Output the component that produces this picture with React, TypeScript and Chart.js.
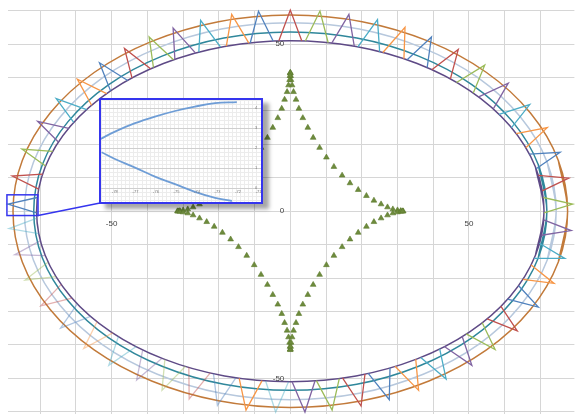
import React, { useEffect, useRef } from 'react';
import { Chart, registerables } from 'chart.js';

Chart.register(...registerables);

// ---------- axis range and labels ----------
const xRange = [-79, 79.5];
const yRange = [-60.8, 60.2];
const xTickLabels = [-50, 50];
const yTickLabels = [50, 0, -50];

// ---------- rings (closed ellipses, points every 15 degrees, overlapping seam) ----------
const outerRingX = [75.0, 77.6, 75.0, 67.2, 54.9, 38.8, 20.1, 0, -20.1, -38.8, -54.9, -67.2, -75.0, -77.6, -75.0, -67.2, -54.9, -38.8, -20.1, 0, 20.1, 38.8, 54.9, 67.2, 75.0, 77.6, 75.0];
const outerRingY = [-15.2, 0, 15.2, 29.4, 41.5, 50.8, 56.7, 58.7, 56.7, 50.8, 41.5, 29.4, 15.2, 0, -15.2, -29.4, -41.5, -50.8, -56.7, -58.7, -56.7, -50.8, -41.5, -29.4, -15.2, 0, 15.2];
const middleRingX = [71.9, 74.4, 71.9, 64.4, 52.6, 37.2, 19.3, 0, -19.3, -37.2, -52.6, -64.4, -71.9, -74.4, -71.9, -64.4, -52.6, -37.2, -19.3, 0, 19.3, 37.2, 52.6, 64.4, 71.9, 74.4, 71.9];
const middleRingY = [-14.6, 0, 14.6, 28.2, 39.9, 48.8, 54.5, 56.4, 54.5, 48.8, 39.9, 28.2, 14.6, 0, -14.6, -28.2, -39.9, -48.8, -54.5, -56.4, -54.5, -48.8, -39.9, -28.2, -14.6, 0, 14.6];
const tealRingX = [69.4, 71.8, 69.4, 62.2, 50.8, 35.9, 18.6, 0, -18.6, -35.9, -50.8, -62.2, -69.4, -71.8, -69.4, -62.2, -50.8, -35.9, -18.6, 0, 18.6, 35.9, 50.8, 62.2, 69.4, 71.8, 69.4];
const tealRingY = [-13.9, 0, 13.9, 26.8, 37.9, 46.4, 51.8, 53.6, 51.8, 46.4, 37.9, 26.8, 13.9, 0, -13.9, -26.8, -37.9, -46.4, -51.8, -53.6, -51.8, -46.4, -37.9, -26.8, -13.9, 0, 13.9];
const innerRingX = [68.6, 71, 68.6, 61.5, 50.2, 35.5, 18.4, 0, -18.4, -35.5, -50.2, -61.5, -68.6, -71, -68.6, -61.5, -50.2, -35.5, -18.4, 0, 18.4, 35.5, 50.2, 61.5, 68.6, 71, 68.6];
const innerRingY = [-13.2, 0, 13.2, 25.5, 36.1, 44.2, 49.3, 51, 49.3, 44.2, 36.1, 25.5, 13.2, 0, -13.2, -25.5, -36.1, -44.2, -49.3, -51, -49.3, -44.2, -36.1, -25.5, -13.2, 0, 13.2];

// ---------- petals: [base, apex, base] ----------
const petalX = [
  [-71.0, -79.0, -70.8], [-70.4, -77.8, -69.3], [-68.5, -75.1, -66.5], [-64.9, -70.7, -62.0],
  [-60.6, -65.5, -57.0], [-55.6, -59.6, -51.4], [-50.3, -53.4, -45.5], [-44.3, -46.4, -39.1],
  [-38.3, -39.5, -32.7], [-32.3, -32.8, -26.5], [-25.6, -25.1, -19.5], [-17.9, -16.4, -11.6],
  [-11.2, -8.9, -4.8], [-3.2, 0, 3.2], [4.2, 8.3, 10.6], [11.6, 16.4, 17.9],
  [18.9, 24.4, 25.0], [25.9, 32.1, 31.8], [32.7, 39.5, 38.3], [39.6, 47.0, 44.8],
  [46.5, 54.4, 51.2], [52.7, 61.0, 56.8], [58.4, 67.0, 61.9], [63.2, 71.9, 65.9],
  [66.9, 75.5, 68.8], [69.4, 77.9, 70.5], [70.8, 79.0, 71.0], [70.9, 78.6, 70.3],
  [69.7, 76.8, 68.2], [67.4, 73.8, 65.1], [63.9, 69.4, 60.8], [58.9, 63.5, 55.1],
  [53.7, 57.3, 49.2], [48.1, 50.8, 43.1], [41.8, 43.6, 36.5], [35.1, 35.9, 29.3],
  [27.9, 27.7, 21.8], [20.9, 19.8, 14.6], [13.7, 11.7, 7.3], [6.9, 4.1, 0.5],
  [-0.5, -4.1, -6.9], [-7.9, -12.4, -14.3], [-15.2, -20.4, -21.5], [-22.4, -28.3, -28.4],
  [-29.3, -35.9, -35.1], [-35.9, -43.0, -41.3], [-43.1, -50.8, -48.1], [-49.7, -57.8, -54.1],
  [-55.9, -64.3, -59.6], [-61.1, -69.8, -64.1], [-65.6, -74.2, -67.8], [-68.6, -77.1, -69.9],
  [-70.4, -78.7, -70.9],
];
const petalY = [
  [-0.5, 2.1, 4.1], [6.6, 10.5, 11.1], [13.5, 18.6, 17.9], [20.7, 26.9, 24.8],
  [26.6, 33.7, 30.4], [31.7, 39.5, 35.2], [36.0, 44.4, 39.1], [39.9, 48.7, 42.6],
  [43.0, 52.1, 45.3], [45.4, 54.8, 47.3], [47.6, 57.1, 49.1], [49.4, 58.9, 50.3],
  [50.4, 59.8, 50.9], [51.0, 60.2, 51.0], [50.9, 59.9, 50.4], [50.3, 58.9, 49.4],
  [49.2, 57.3, 47.7], [47.5, 55.0, 45.6], [45.3, 52.1, 43.0], [42.3, 48.4, 39.6],
  [38.5, 43.7, 35.4], [34.2, 38.3, 30.6], [29.0, 31.9, 25.0], [23.2, 25.0, 19.0],
  [17.1, 17.6, 12.7], [10.7, 9.9, 6.1], [4.1, 2.1, -0.5], [-2.6, -5.8, -7.2],
  [-9.6, -14.1, -14.1], [-16.1, -21.6, -20.4], [-22.3, -28.7, -26.3], [-28.4, -35.8, -32.2],
  [-33.4, -41.4, -36.7], [-37.5, -46.1, -40.5], [-41.2, -50.2, -43.8], [-44.3, -53.6, -46.4],
  [-46.9, -56.4, -48.5], [-48.7, -58.3, -49.9], [-50.1, -59.5, -50.7], [-50.8, -60.1, -51.0],
  [-51.0, -60.1, -50.8], [-50.7, -59.5, -50.0], [-49.8, -58.1, -48.6], [-48.4, -56.2, -46.7],
  [-46.4, -53.6, -44.3], [-44.0, -50.5, -41.5], [-40.5, -46.1, -37.5], [-36.4, -41.1, -33.1],
  [-31.5, -35.0, -27.7], [-26.0, -28.3, -21.9], [-19.6, -20.6, -15.3], [-13.3, -13.0, -8.8],
  [-6.7, -5.2, -2.1],
];
const petalFaded = [
  0, 0, 0, 0, 0, 0, 0, 0, 0, 0, 0, 0, 0, 0, 0, 0, 0, 0, 0, 0, 0, 0, 0, 0, 0, 0, 0,
  0, 0, 0, 0, 0, 0, 0, 0, 0, 0, 0, 0, 0, 1, 0, 1, 1, 1, 1, 1, 1, 1, 1, 1, 1, 1,
];

// ---------- astroid (triangle markers) ----------
const astroidX = [
  31.6, 31.4, 30.9, 30.0, 28.7, 27.2, 25.4, 23.4, 21.3, 19.0, 16.7, 14.5, 12.2, 10.1, 8.2, 6.4, 4.9, 3.5, 2.4, 1.6, 0.9, 0.5, 0.2, 0.1, 0,
  0, 0, -0.1, -0.2, -0.5, -0.9, -1.6, -2.4, -3.5, -4.9, -6.4, -8.2, -10.1, -12.2, -14.5, -16.7, -19.0, -21.3, -23.4, -25.4, -27.2, -28.7, -30.0, -30.9, -31.4,
  -31.6, -31.4, -30.9, -30.0, -28.7, -27.2, -25.4, -23.4, -21.3, -19.0, -16.7, -14.5, -12.2, -10.1, -8.2, -6.4, -4.9, -3.5, -2.4, -1.6, -0.9, -0.5, -0.2, -0.1, 0,
  0, 0, 0.1, 0.2, 0.5, 0.9, 1.6, 2.4, 3.5, 4.9, 6.4, 8.2, 10.1, 12.2, 14.5, 16.7, 19.0, 21.3, 23.4, 25.4, 27.2, 28.7, 30.0, 30.9, 31.4,
];
const astroidY = [
  0, 0, 0.1, 0.3, 0.6, 1.2, 2.1, 3.2, 4.6, 6.4, 8.4, 10.7, 13.3, 16.1, 19.0, 22.0, 25.0, 27.9, 30.7, 33.4, 35.7, 37.7, 39.3, 40.5, 41.3,
  41.5, 41.3, 40.5, 39.3, 37.7, 35.7, 33.4, 30.7, 27.9, 25.0, 22.0, 19.0, 16.1, 13.3, 10.7, 8.4, 6.4, 4.6, 3.2, 2.1, 1.2, 0.6, 0.3, 0.1, 0,
  0, 0, -0.1, -0.3, -0.6, -1.2, -2.1, -3.2, -4.6, -6.4, -8.4, -10.7, -13.3, -16.1, -19.0, -22.0, -25.0, -27.9, -30.7, -33.4, -35.7, -37.7, -39.3, -40.5, -41.3,
  -41.5, -41.3, -40.5, -39.3, -37.7, -35.7, -33.4, -30.7, -27.9, -25.0, -22.0, -19.0, -16.1, -13.3, -10.7, -8.4, -6.4, -4.6, -3.2, -2.1, -1.2, -0.6, -0.3, -0.1, 0,
];

// ---------- zoomed region and inset chart ----------
const zoomRegionX = [-79.3, -70.6];
const zoomRegionY = [-1.3, 4.9];
const insetRangeX = [-78.68, -70.88];
const insetRangeY = [-0.7, 4.4];
const insetXLabels = [-78, -77, -76, -75, -74, -73, -72, -71];
const insetYLabels = [0, 1, 2, 3, 4];
const insetUpperX = [-78.73, -78.0, -77.02, -76.05, -75.07, -74.1, -73.12, -72.06];
const insetUpperY = [2.44, 2.82, 3.24, 3.57, 3.85, 4.07, 4.24, 4.29];
const insetLowerX = [-78.65, -78.0, -77.02, -76.05, -75.07, -74.1, -73.12, -72.3];
const insetLowerY = [1.79, 1.45, 1.02, 0.57, 0.19, -0.19, -0.49, -0.65];

// ---------- styling ----------
const palette = ['#4F81BD', '#C0504D', '#9BBB59', '#8064A2', '#4BACC6', '#F79646'];
const fadedPalette = ['rgba(79,129,189,0.45)', 'rgba(192,80,77,0.45)', 'rgba(155,187,89,0.45)', 'rgba(128,100,162,0.45)', 'rgba(75,172,198,0.45)', 'rgba(247,150,70,0.45)'];
const ringColors = ['#C27A3A', '#B7C8DD', '#2F879B', '#5E4A86'];
const INSET = { left: 99, top: 98, width: 164, height: 106 };
const FRAME_BLUE = '#3535EE';

const pts = (xs: number[], ys: number[]) => xs.map((x, i) => ({ x, y: ys[i] }));

const overlayPlugin = {
  id: 'overlay',
  afterDraw(chart: any) {
    const { ctx } = chart;
    const sx = chart.scales.x;
    const sy = chart.scales.y;
    const x0 = sx.getPixelForValue(0);
    const y0 = sy.getPixelForValue(0);
    ctx.save();
    ctx.font = '8px "Liberation Sans", Arial, sans-serif';
    ctx.fillStyle = '#404040';
    ctx.textBaseline = 'middle';
    ctx.textAlign = 'center';
    xTickLabels.forEach((v) => ctx.fillText(String(v), sx.getPixelForValue(v), y0 + 12.5));
    ctx.textAlign = 'right';
    yTickLabels.forEach((v) => ctx.fillText(String(v), x0 - 6, sy.getPixelForValue(v)));
    // zoom rectangle + connector
    const rx1 = sx.getPixelForValue(zoomRegionX[0]);
    const rx2 = sx.getPixelForValue(zoomRegionX[1]);
    const ry1 = sy.getPixelForValue(zoomRegionY[1]);
    const ry2 = sy.getPixelForValue(zoomRegionY[0]);
    ctx.strokeStyle = FRAME_BLUE;
    ctx.lineWidth = 1.5;
    ctx.strokeRect(rx1, ry1, rx2 - rx1, ry2 - ry1);
    ctx.beginPath();
    ctx.moveTo(rx2, ry2);
    ctx.lineTo(INSET.left + 1, INSET.top + INSET.height - 1);
    ctx.stroke();
    ctx.restore();
  },
};

const insetLabelPlugin = {
  id: 'insetLabels',
  afterDraw(chart: any) {
    const { ctx } = chart;
    const sx = chart.scales.x;
    const sy = chart.scales.y;
    ctx.save();
    ctx.font = '4px "Liberation Sans", Arial, sans-serif';
    ctx.fillStyle = '#777';
    ctx.textAlign = 'center';
    ctx.textBaseline = 'middle';
    insetXLabels.forEach((v) => ctx.fillText(String(v), sx.getPixelForValue(v), sy.getPixelForValue(-0.2)));
    insetYLabels.forEach((v) => ctx.fillText(String(v), sx.getPixelForValue(-71.12), sy.getPixelForValue(v)));
    ctx.restore();
  },
};

export default function App() {
  const mainRef = useRef<HTMLCanvasElement>(null);
  const insetRef = useRef<HTMLCanvasElement>(null);

  useEffect(() => {
    const rings = [
      [outerRingX, outerRingY],
      [middleRingX, middleRingY],
      [tealRingX, tealRingY],
      [innerRingX, innerRingY],
    ].map(([xs, ys], i) => ({
      label: 'ring' + i,
      data: pts(xs, ys),
      showLine: true,
      pointRadius: 0,
      borderColor: ringColors[i],
      borderWidth: 1.5,
      tension: 0.33,
      fill: false,
      clip: false as any,
    }));
    const petals = petalX.map((xs, i) => ({
      label: 'petal' + i,
      data: pts(xs, petalY[i]),
      showLine: true,
      pointRadius: 0,
      borderColor: petalFaded[i] ? fadedPalette[i % 6] : palette[i % 6],
      borderWidth: 1.3,
      tension: 0,
      fill: false,
      clip: false as any,
    }));
    const astroid = {
      label: 'astroid',
      data: pts(astroidX, astroidY),
      showLine: false,
      pointStyle: 'triangle',
      pointRadius: 3.3,
      backgroundColor: '#6E8B3D',
      borderColor: '#5C7A2E',
      borderWidth: 0.6,
    };

    const main = new Chart(mainRef.current as HTMLCanvasElement, {
      type: 'scatter',
      data: { datasets: [astroid as any, ...petals, ...rings] },
      options: {
        animation: false,
        responsive: false,
        devicePixelRatio: 1,
        events: [],
        layout: { padding: { left: 8, top: 10, right: 0, bottom: 0 } },
        plugins: { legend: { display: false }, tooltip: { enabled: false } },
        scales: {
          x: {
            type: 'linear',
            min: xRange[0],
            max: xRange[1],
            ticks: { display: false, stepSize: 10, includeBounds: false },
            grid: { color: '#D6D6D6', lineWidth: 1, drawTicks: false },
            border: { display: false },
          },
          y: {
            type: 'linear',
            min: yRange[0],
            max: yRange[1],
            ticks: { display: false, stepSize: 10, includeBounds: false },
            grid: { color: '#D6D6D6', lineWidth: 1, drawTicks: false },
            border: { display: false },
          },
        },
      },
      plugins: [overlayPlugin],
    });

    const isMajor = (v: number) => Math.abs(v - Math.round(v)) < 1e-6;
    const inset = new Chart(insetRef.current as HTMLCanvasElement, {
      type: 'scatter',
      data: {
        datasets: [
          { label: 'upper', data: pts(insetUpperX, insetUpperY), showLine: true, pointRadius: 0, borderColor: '#6E9DD6', borderWidth: 1.8, tension: 0.4 },
          { label: 'lower', data: pts(insetLowerX, insetLowerY), showLine: true, pointRadius: 0, borderColor: '#6E9DD6', borderWidth: 1.8, tension: 0.4 },
        ],
      },
      options: {
        animation: false,
        responsive: false,
        devicePixelRatio: 1,
        events: [],
        layout: { padding: 0 },
        plugins: { legend: { display: false }, tooltip: { enabled: false } },
        scales: {
          x: {
            type: 'linear',
            min: insetRangeX[0],
            max: insetRangeX[1],
            ticks: { display: false, stepSize: 0.2, includeBounds: false },
            grid: { color: (c: any) => (isMajor(c.tick.value) ? '#CFCFCF' : '#ECECEC'), lineWidth: 1, drawTicks: false },
            border: { display: false },
          },
          y: {
            type: 'linear',
            min: insetRangeY[0],
            max: insetRangeY[1],
            ticks: { display: false, stepSize: 0.2, includeBounds: false },
            grid: { color: (c: any) => (isMajor(c.tick.value) ? '#CFCFCF' : '#ECECEC'), lineWidth: 1, drawTicks: false },
            border: { display: false },
          },
        },
      },
      plugins: [insetLabelPlugin],
    });

    return () => {
      main.destroy();
      inset.destroy();
    };
  }, []);

  return (
    <div style={{ position: 'fixed', left: 0, top: 0, width: 579, height: 419, background: '#fff', overflow: 'hidden' }}>
      <canvas ref={mainRef} width={579} height={419} style={{ position: 'absolute', left: 0, top: 0, width: 579, height: 419 }} />
      <div
        style={{
          position: 'absolute',
          left: INSET.left,
          top: INSET.top,
          width: INSET.width,
          height: INSET.height,
          boxSizing: 'border-box',
          border: '2px solid ' + FRAME_BLUE,
          boxShadow: '6px 5px 4px rgba(0,0,0,0.35)',
          background: '#fff',
        }}
      >
        <canvas ref={insetRef} width={160} height={102} style={{ display: 'block', width: 160, height: 102 }} />
      </div>
    </div>
  );
}
